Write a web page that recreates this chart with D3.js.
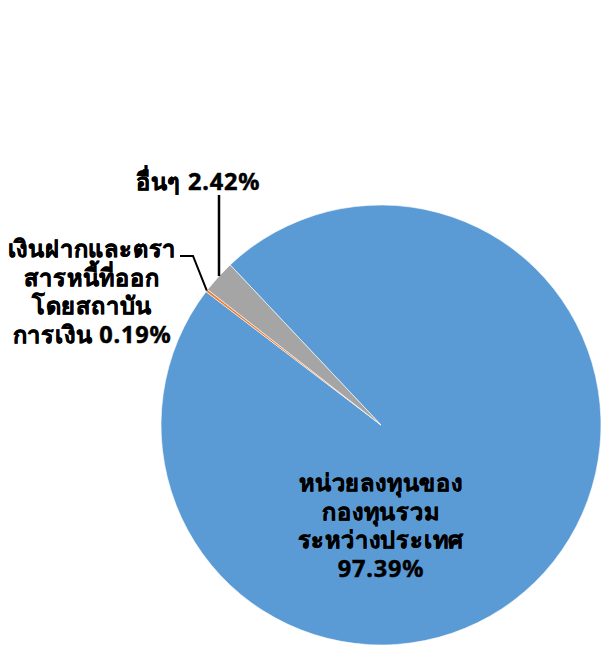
<!DOCTYPE html>
<html><head><meta charset="utf-8">
<script src="https://cdn.jsdelivr.net/npm/d3@7"></script>
<style>body{margin:0;background:#fff}svg{display:block}text{font-family:Tahoma,"Noto Sans","DejaVu Sans",sans-serif;font-weight:bold;fill:#000;stroke:#000;stroke-width:0.5px}</style>
</head><body>
<svg id="c" width="601" height="645"></svg>
<script>
const categories = ["หน่วยลงทุนของกองทุนรวมระหว่างประเทศ", "เงินฝากและตราสารหนี้ที่ออกโดยสถาบันการเงิน", "อื่นๆ"];
const values = [97.39, 0.19, 2.42];
const colors = ["#5B9BD5", "#ED7D31", "#A5A5A5"];
const labelLines = [
  ["หน่วยลงทุนของ", "กองทุนรวม", "ระหว่างประเทศ", "97.39%"],
  ["เงินฝากและตรา", "สารหนี้ที่ออก", "โดยสถาบัน", "การเงิน 0.19%"],
  ["อื่นๆ 2.42%"]
];

const svg = d3.select("#c");
const cx = 381, cy = 425, r = 220;
const start = -43.3 * Math.PI / 180;
const pie = d3.pie().sort(null).startAngle(start).endAngle(start + 2 * Math.PI);
const arcs = pie(values);
const arc = d3.arc().innerRadius(0).outerRadius(r);
const g = svg.append("g").attr("transform", `translate(${cx},${cy})`);
g.selectAll("path").data(arcs).join("path")
  .attr("d", arc).attr("fill", (d, i) => colors[i])
  .attr("stroke", "#fff").attr("stroke-width", 0.6);

const fs = 23.5, lh = 28.5;
const labelPos = [[381, 491], [92, 257], [198, 190]];
labelLines.forEach((lines, i) => {
  const t = svg.append("text").attr("text-anchor", "middle").attr("font-size", fs).attr("letter-spacing", 0.8);
  lines.forEach((s, j) => t.append("tspan").attr("x", labelPos[i][0]).attr("y", labelPos[i][1] + j * lh).text(s));
});

const pt = (d, rr) => { const a = (d.startAngle + d.endAngle) / 2; return [cx + rr * Math.sin(a), cy - rr * Math.cos(a)]; };
const pOrange = pt(arcs[1], r);
svg.append("polyline").attr("points", `180,256 193,256 ${pOrange[0]},${pOrange[1]}`)
  .attr("fill", "none").attr("stroke", "#000").attr("stroke-width", 2);
svg.append("line").attr("x1", 219).attr("y1", 195).attr("x2", 219).attr("y2", 276)
  .attr("stroke", "#000").attr("stroke-width", 2.5);
</script>
</body></html>
